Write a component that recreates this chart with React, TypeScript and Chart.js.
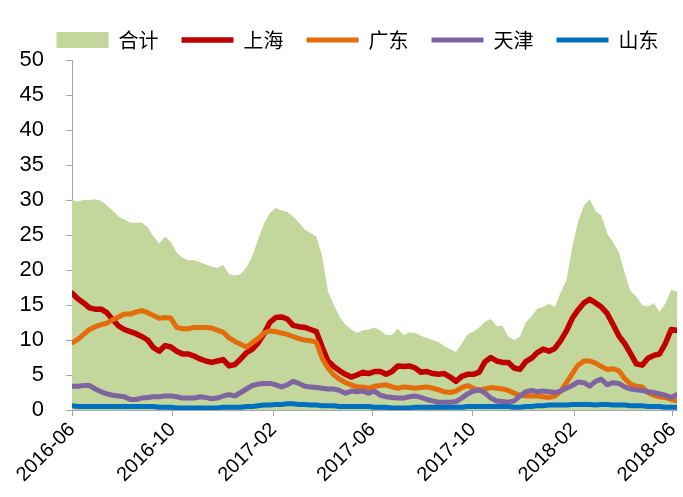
import React, { useEffect, useRef } from 'react';
import { Chart, registerables } from 'chart.js';

Chart.register(...registerables);

// Weekly observations, 2016-06 .. 2018-06 (105 weeks)
const SERIES_NAMES = ['合计', '上海', '广东', '天津', '山东'];

const TOTAL = [
  30.0, 29.8, 30.0, 30.0, 30.1, 29.9, 29.2, 28.5, 27.6, 27.2,
  26.8, 26.7, 26.8, 26.1, 24.8, 23.8, 24.8, 24.0, 22.5, 21.7,
  21.4, 21.4, 21.1, 20.8, 20.5, 20.3, 20.7, 19.4, 19.2, 19.4,
  20.4, 22.0, 24.4, 26.6, 28.1, 28.9, 28.5, 28.3, 27.6, 26.8,
  25.8, 25.3, 24.8, 22.0, 17.0, 15.0, 13.3, 12.2, 11.5, 11.0,
  11.4, 11.5, 11.8, 11.4, 10.7, 10.7, 11.6, 10.7, 11.1, 11.0,
  10.6, 10.3, 10.0, 9.7, 9.1, 8.7, 8.3, 9.5, 10.8, 11.2,
  11.8, 12.6, 13.0, 12.0, 12.0, 10.5, 10.0, 10.5, 12.5, 13.4,
  14.5, 14.7, 15.2, 14.7, 16.8, 18.5, 23.3, 26.9, 29.2, 30.1,
  28.4, 27.8, 25.2, 24.0, 22.5, 19.6, 17.0, 16.2, 15.0, 14.8,
  15.3, 14.0, 15.2, 17.2, 16.9,
];

const SHANGHAI = [
  16.7, 15.9, 15.3, 14.6, 14.4, 14.4, 13.9, 12.9, 12.0, 11.5,
  11.2, 10.9, 10.5, 10.0, 8.9, 8.4, 9.2, 9.0, 8.4, 8.0,
  8.0, 7.7, 7.3, 7.0, 6.8, 7.0, 7.2, 6.3, 6.5, 7.3,
  8.2, 8.7, 9.6, 10.9, 12.5, 13.2, 13.3, 13.0, 12.1, 11.9,
  11.8, 11.5, 11.2, 9.0, 7.0, 6.2, 5.6, 5.1, 4.7, 5.0,
  5.4, 5.2, 5.5, 5.5, 5.1, 5.5, 6.3, 6.2, 6.3, 6.0,
  5.4, 5.5, 5.2, 5.1, 5.2, 4.7, 4.1, 4.8, 5.1, 5.1,
  5.4, 6.9, 7.5, 7.0, 6.8, 6.8, 6.0, 5.8, 6.9, 7.4,
  8.2, 8.7, 8.4, 8.8, 9.9, 11.3, 13.1, 14.3, 15.3, 15.8,
  15.3, 14.7, 13.8, 12.2, 10.6, 9.5, 8.1, 6.6, 6.4, 7.4,
  7.8, 8.0, 9.5, 11.5, 11.4,
];

const GUANGDONG = [
  9.6, 10.1, 10.8, 11.5, 11.9, 12.2, 12.4, 12.9, 13.3, 13.7,
  13.7, 14.0, 14.2, 13.9, 13.5, 13.1, 13.2, 13.1, 11.8, 11.6,
  11.6, 11.8, 11.8, 11.8, 11.7, 11.4, 11.1, 10.3, 9.8, 9.4,
  9.0, 9.6, 10.2, 11.0, 11.3, 11.2, 11.0, 10.8, 10.5, 10.2,
  10.0, 9.9, 9.7, 7.4, 6.0, 5.0, 4.4, 3.9, 3.6, 3.3,
  3.3, 3.1, 3.4, 3.5, 3.6, 3.3, 3.1, 3.3, 3.2, 3.1,
  3.2, 3.3, 3.1, 2.9, 2.6, 2.5, 2.7, 3.2, 3.5, 3.1,
  2.8, 3.0, 3.2, 3.1, 3.0, 2.8, 2.4, 2.1, 2.0, 2.0,
  2.0, 1.9, 1.8, 2.0, 2.7, 3.9, 5.2, 6.4, 7.0, 7.0,
  6.7, 6.2, 5.8, 5.9, 5.6, 4.5, 3.7, 3.4, 3.3, 2.5,
  2.1, 1.9, 1.8, 1.5, 1.3,
];

const TIANJIN = [
  3.4, 3.4, 3.5, 3.5, 3.0, 2.6, 2.3, 2.1, 2.0, 1.9,
  1.5, 1.5, 1.7, 1.8, 1.9, 1.9, 2.0, 2.0, 1.9, 1.7,
  1.7, 1.7, 1.9, 1.8, 1.6, 1.7, 2.0, 2.2, 2.0, 2.5,
  3.0, 3.5, 3.7, 3.8, 3.8, 3.6, 3.3, 3.6, 4.1, 3.8,
  3.4, 3.3, 3.2, 3.1, 3.0, 3.0, 2.8, 2.4, 2.7, 2.6,
  2.7, 2.4, 2.7, 2.1, 1.9, 1.8, 1.7, 1.7, 1.9, 2.0,
  1.8, 1.5, 1.3, 1.1, 1.1, 1.1, 1.2, 1.7, 2.3, 2.7,
  2.9, 2.4, 1.7, 1.3, 1.2, 1.1, 1.3, 2.0, 2.6, 2.8,
  2.6, 2.7, 2.6, 2.5, 2.7, 3.1, 3.5, 4.0, 3.9, 3.4,
  4.1, 4.4, 3.6, 3.9, 3.8, 3.3, 3.0, 2.9, 2.8, 2.6,
  2.5, 2.3, 2.1, 1.8, 2.2,
];

const SHANDONG = [
  0.6, 0.5, 0.5, 0.5, 0.5, 0.5, 0.5, 0.5, 0.5, 0.5,
  0.5, 0.5, 0.5, 0.5, 0.5, 0.4, 0.4, 0.4, 0.3, 0.3,
  0.3, 0.3, 0.3, 0.3, 0.3, 0.3, 0.4, 0.4, 0.4, 0.4,
  0.5, 0.5, 0.6, 0.7, 0.7, 0.8, 0.8, 0.9, 0.9, 0.8,
  0.8, 0.7, 0.7, 0.6, 0.6, 0.6, 0.5, 0.5, 0.5, 0.5,
  0.5, 0.5, 0.4, 0.4, 0.4, 0.3, 0.3, 0.3, 0.3, 0.4,
  0.4, 0.4, 0.4, 0.4, 0.4, 0.4, 0.4, 0.4, 0.5, 0.5,
  0.5, 0.5, 0.5, 0.5, 0.5, 0.5, 0.4, 0.4, 0.5, 0.5,
  0.6, 0.6, 0.7, 0.7, 0.7, 0.7, 0.8, 0.8, 0.8, 0.8,
  0.7, 0.8, 0.8, 0.7, 0.7, 0.7, 0.6, 0.6, 0.6, 0.5,
  0.5, 0.5, 0.4, 0.4, 0.4,
];

// x-axis tick labels and their day offsets from 2016-06-01
const TICK_LABELS = ['2016-06', '2016-10', '2017-02', '2017-06', '2017-10', '2018-02', '2018-06'];
const TICK_DAYS = [0, 122, 245, 365, 487, 610, 730];
const LAST_DAY = 735; // day offset of the last weekly observation

const COLORS = ['#C3D69B', '#C00000', '#E46C0A', '#8064A2', '#0070C0'];

const legendShift = {
  id: 'legendShift',
  afterLayout(chart: any) {
    if (chart.legend) {
      chart.legend.left = 29;
      chart.legend.right = 686;
    }
  },
};

export default function App() {
  const ref = useRef<HTMLCanvasElement | null>(null);

  useEffect(() => {
    if (!ref.current) return;
    const n = TOTAL.length - 1;
    const dayPerPoint = LAST_DAY / n;
    const toPts = (arr: number[]) => arr.map((y, i) => ({ x: i, y }));
    const tickPos = TICK_DAYS.map((d) => d / dayPerPoint);
    const lineDs = (label: string, data: number[], color: string, width: number, order: number) => ({
      type: 'line' as const,
      label,
      data: toPts(data),
      borderColor: color,
      backgroundColor: color,
      borderWidth: width,
      borderCapStyle: 'round' as const,
      borderJoinStyle: 'round' as const,
      pointRadius: 0,
      pointStyle: 'line',
      fill: false,
      order,
      tension: 0,
    });
    const tickFont = { family: '"Liberation Sans", Arial, sans-serif', size: 20 };
    const gridOpts = {
      display: true,
      drawOnChartArea: false,
      drawTicks: true,
      tickLength: 6,
      color: '#a6a6a6',
    };
    const chart = new Chart(ref.current, {
      type: 'line',
      plugins: [legendShift],
      data: {
        datasets: [
          {
            label: SERIES_NAMES[0],
            data: toPts(TOTAL),
            borderColor: 'rgba(0,0,0,0)',
            backgroundColor: COLORS[0],
            borderWidth: 0,
            pointRadius: 0,
            pointStyle: 'rect',
            fill: 'origin',
            order: 5,
            tension: 0,
          },
          lineDs(SERIES_NAMES[1], SHANGHAI, COLORS[1], 5.5, 4),
          lineDs(SERIES_NAMES[2], GUANGDONG, COLORS[2], 5, 3),
          lineDs(SERIES_NAMES[3], TIANJIN, COLORS[3], 5, 2),
          lineDs(SERIES_NAMES[4], SHANDONG, COLORS[4], 5, 1),
        ] as any,
      },
      options: {
        animation: false,
        responsive: false,
        devicePixelRatio: 1,
        layout: { padding: { top: 7, left: 0, right: 6, bottom: 0 } },
        plugins: {
          legend: {
            position: 'top',
            align: 'center',
            labels: {
              usePointStyle: true,
              pointStyleWidth: 52,
              boxHeight: 16,
              padding: 23,
              color: '#000',
              font: { family: '"Noto Sans CJK SC", sans-serif', size: 20 },
              sort: (a: any, b: any) => a.datasetIndex - b.datasetIndex,
            },
          },
          tooltip: { enabled: false },
        },
        scales: {
          x: {
            type: 'linear',
            min: 0,
            max: n,
            afterBuildTicks: (s: any) => {
              s.ticks = tickPos.map((v) => ({ value: v }));
            },
            afterFit: (s: any) => {
              s.height = 87;
              s.paddingLeft = 0;
              s.paddingRight = 0;
            },
            ticks: {
              autoSkip: false,
              maxRotation: 45,
              minRotation: 45,
              padding: 2,
              color: '#000',
              font: tickFont,
              callback: (_v: any, i: number) => TICK_LABELS[i],
            },
            grid: gridOpts,
            border: { color: '#a6a6a6', width: 1 },
          },
          y: {
            min: 0,
            max: 50,
            afterFit: (s: any) => {
              s.width = 72;
              s.paddingTop = 0;
              s.paddingBottom = 0;
            },
            ticks: {
              stepSize: 5,
              padding: 22,
              color: '#000',
              font: { family: '"Liberation Sans", Arial, sans-serif', size: 22 },
            },
            grid: gridOpts,
            border: { color: '#a6a6a6', width: 1 },
          },
        },
      } as any,
    });
    return () => chart.destroy();
  }, []);

  return (
    <div style={{ position: 'fixed', left: 0, top: 0, width: 683, height: 497, background: '#fff' }}>
      <canvas ref={ref} width={683} height={497} style={{ display: 'block' }} />
    </div>
  );
}
